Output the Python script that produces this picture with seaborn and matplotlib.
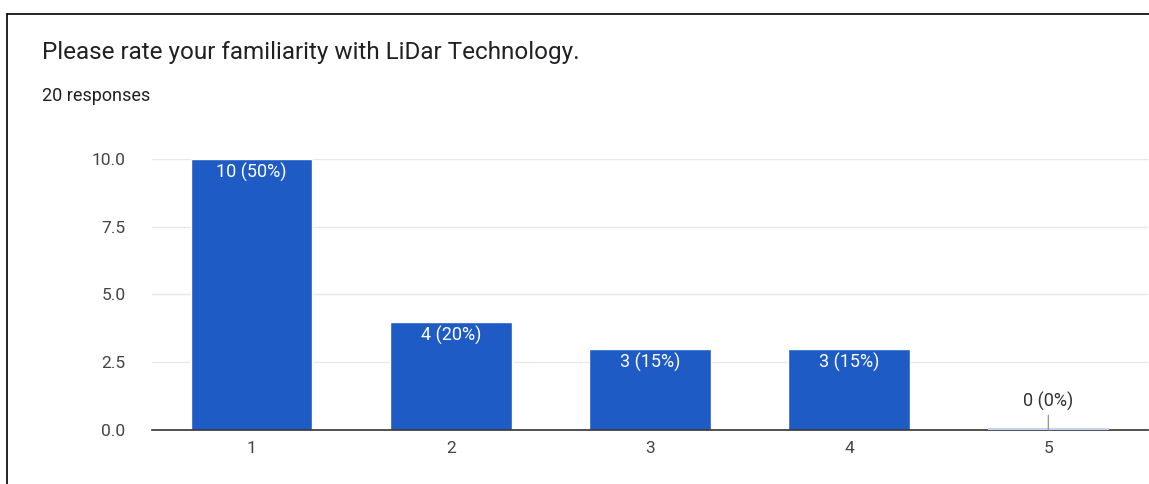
import matplotlib
matplotlib.use("Agg")
import matplotlib.pyplot as plt
import seaborn as sns
import pandas as pd
from matplotlib.lines import Line2D

# Survey results
ratings = ["1", "2", "3", "4", "5"]
counts = [10, 4, 3, 3, 0]
labels = ["10 (50%)", "4 (20%)", "3 (15%)", "3 (15%)", "0 (0%)"]
y_ticks = [0.0, 2.5, 5.0, 7.5, 10.0]

title = "Please rate your familiarity with LiDar Technology."
subtitle = "20 responses"

bar_color = "#1f5bc4"

sns.set_theme(style="white")
plt.rcParams["font.family"] = ["Roboto", "DejaVu Sans"]

fig = plt.figure(figsize=(11.49, 4.84), dpi=100)
ax = fig.add_axes([0.1323, 0.1116, 0.8668, 0.5599])

df = pd.DataFrame({"rating": ratings, "count": counts})
sns.barplot(data=df, x="rating", y="count", color=bar_color, saturation=1,
            width=0.61, ax=ax, zorder=3)

ax.set_xlim(-0.5, 4.5)
ax.set_ylim(0, 10)
ax.set_yticks(y_ticks)
ax.set_yticklabels([f"{t:.1f}" for t in y_ticks])
ax.set_xlabel("")
ax.set_ylabel("")

ax.grid(axis="y", color="#e8e8e8", linewidth=1, zorder=0)
ax.grid(axis="x", visible=False)
for side in ["top", "right", "left"]:
    ax.spines[side].set_visible(False)
ax.spines["bottom"].set_color("#333333")
ax.spines["bottom"].set_linewidth(1.2)
ax.spines["bottom"].set_zorder(4)
ax.tick_params(axis="both", length=0, labelsize=12.5, labelcolor="#444444")
ax.tick_params(axis="y", pad=19)
ax.tick_params(axis="x", pad=8)

# Value labels: inside the top of each bar, or above the axis for empty bars
for i, (v, lab) in enumerate(zip(counts, labels)):
    if v > 0:
        ax.annotate(lab, xy=(i, v), xytext=(0, -3), textcoords="offset points",
                    ha="center", va="top", color="white", fontsize=13, zorder=5)
    else:
        ax.hlines(0.04, i - 0.305, i + 0.305, color="#c5d3ee", linewidth=1.5, zorder=5)
        ax.annotate(lab, xy=(i, v), xytext=(0, 14), textcoords="offset points",
                    ha="center", va="bottom", color="#333333", fontsize=13,
                    arrowprops=dict(arrowstyle="-", color="#999999", lw=1,
                                    shrinkA=1, shrinkB=0), zorder=5)

fig.text(42 / 1149, 1 - 53 / 484, title, fontsize=17.5, color="#202124",
         ha="left", va="center")
fig.text(42 / 1149, 1 - 96 / 484, subtitle, fontsize=13, color="#202124",
         ha="left", va="center")

# Card border (top and left edges)
fig.add_artist(Line2D([7 / 1149, 1.0], [1 - 14 / 484, 1 - 14 / 484],
                      transform=fig.transFigure, color="black", linewidth=1.2))
fig.add_artist(Line2D([7 / 1149, 7 / 1149], [0.0, 1 - 14 / 484],
                      transform=fig.transFigure, color="black", linewidth=1.2))

fig.savefig("out.png", dpi=100)
